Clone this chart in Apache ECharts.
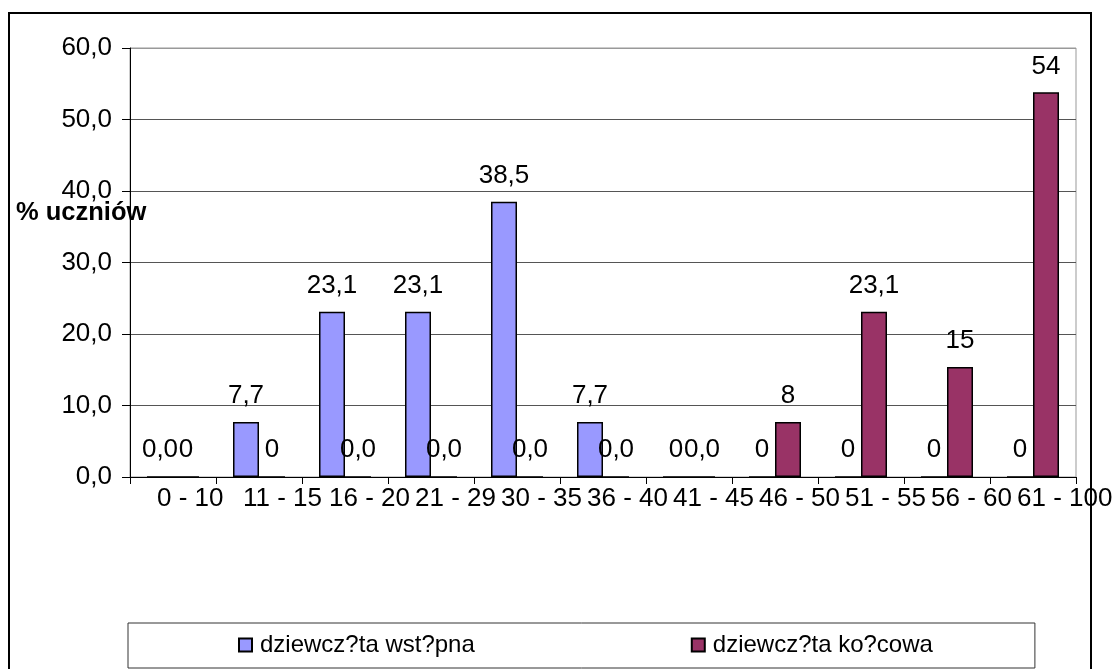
<!DOCTYPE html>
<html>
<head>
<meta charset="utf-8">
<script src="https://cdn.jsdelivr.net/npm/echarts@6/dist/echarts.min.js"></script>
<style>
html,body{margin:0;padding:0;background:#fff;}
#chart{width:1115px;height:669px;}
</style>
</head>
<body>
<div id="chart"></div>
<script>
// ---- data ----
const categories = ['0 - 10','11 - 15','16 - 20','21 - 29','30 - 35','36 - 40','41 - 45','46 - 50','51 - 55','56 - 60','61 - 100'];
const seriesNames = ['dziewcz?ta wst?pna','dziewcz?ta ko?cowa'];
const valuesStart = [0, 7.7, 23.1, 23.1, 38.5, 7.7, 0, 0, 0, 0, 0];
const valuesEnd   = [0, 0, 0, 0, 0, 0, 0, 7.7, 23.1, 15.4, 53.8];
const labelsStart = ['0,0','7,7','23,1','23,1','38,5','7,7','0','0','0','0','0'];
const labelsEnd   = ['0','0','0,0','0,0','0,0','0,0','0,0','8','23,1','15','54'];
const yTicks      = [0, 10, 20, 30, 40, 50, 60];
const yTickLabels = ['0,0','10,0','20,0','30,0','40,0','50,0','60,0'];
const yAxisTitle  = '% uczniów';

const FONT = "'Liberation Sans', Arial, sans-serif";
const chart = echarts.init(document.getElementById('chart'), null, {renderer: 'canvas'});

function barSeries(name, values, labels, color) {
  return {
    name: name,
    type: 'bar',
    data: values,
    barWidth: 26,
    barGap: '0%',
    itemStyle: {color: color, borderColor: '#000', borderWidth: 1.5},
    label: {
      show: true,
      position: 'top',
      distance: 13,
      color: '#000',
      fontSize: 26,
      fontFamily: FONT,
      formatter: p => labels[p.dataIndex]
    },
    emphasis: {disabled: true},
    animation: false
  };
}

chart.setOption({
  backgroundColor: '#fff',
  animation: false,
  title: {
    text: yAxisTitle,
    left: 16,
    top: 200,
    padding: 0,
    textStyle: {fontFamily: FONT, fontSize: 25.5, fontWeight: 'bold', color: '#000'}
  },
  legend: {
    data: seriesNames,
    left: 128,
    top: 623,
    orient: 'horizontal',
    padding: [10, 102, 11, 110],
    itemWidth: 13,
    itemHeight: 13,
    itemGap: 216,
    icon: 'rect',
    borderColor: '#333',
    borderWidth: 1,
    textStyle: {fontFamily: FONT, fontSize: 24, color: '#000', padding: [0,0,0,3]},
    selectedMode: false
  },
  grid: {
    left: 130, right: 39, top: 48, bottom: 192,
    containLabel: false,
    outerBoundsMode: 'none',
    show: true,
    borderColor: '#999',
    borderWidth: 1
  },
  xAxis: {
    type: 'category',
    data: categories,
    boundaryGap: true,
    axisLine: {show: true, lineStyle: {color: '#000', width: 1}},
    axisTick: {show: true, inside: false, length: 7, alignWithLabel: false, interval: 0, lineStyle: {color: '#000'}},
    axisLabel: {
      interval: 0,
      color: '#000',
      fontSize: 26,
      fontFamily: FONT,
      margin: 9,
      align: 'left',
      padding: [0, 0, 0, -16],
      hideOverlap: false
    },
    splitLine: {show: false}
  },
  yAxis: {
    type: 'value',
    min: 0,
    max: 60,
    interval: 10,
    axisLine: {show: true, lineStyle: {color: '#000', width: 1}},
    axisTick: {show: true, inside: false, length: 8, lineStyle: {color: '#000'}},
    axisLabel: {
      color: '#000',
      fontSize: 26,
      fontFamily: FONT,
      margin: 18,
      formatter: v => yTickLabels[yTicks.indexOf(v)]
    },
    splitLine: {show: true, lineStyle: {color: ['#555','#555','#555','#555','#555','#555','#999'], width: 1}}
  },
  series: [
    barSeries(seriesNames[0], valuesStart, labelsStart, '#9999FF'),
    barSeries(seriesNames[1], valuesEnd, labelsEnd, '#993366')
  ],
  graphic: [{
    type: 'rect',
    silent: true,
    z: -1,
    shape: {x: 9, y: 13, width: 1082, height: 720},
    style: {fill: 'none', stroke: '#000', lineWidth: 2}
  }]
});
</script>
</body>
</html>
